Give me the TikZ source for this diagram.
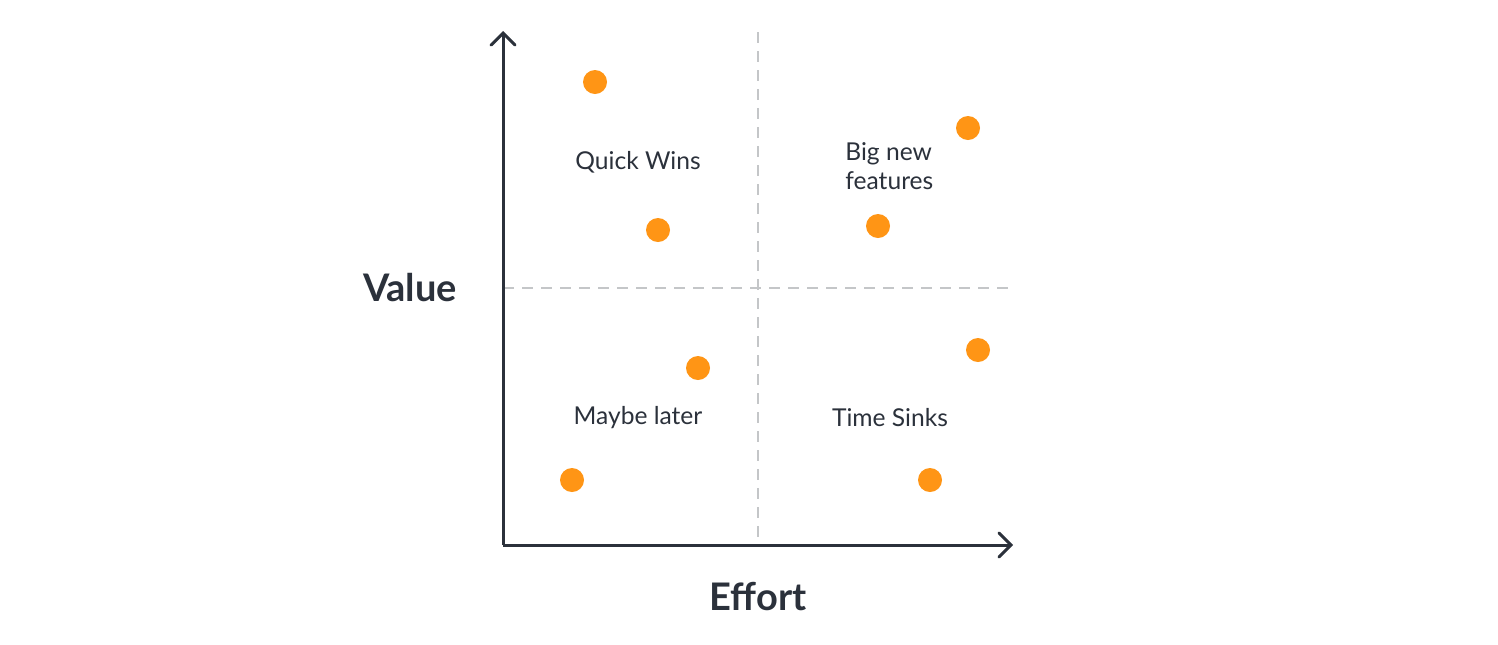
\documentclass[tikz,border=0pt]{standalone}
\usepackage{fontspec}
\setmainfont{Lato}
\usetikzlibrary{arrows.meta}
\definecolor{ink}{HTML}{2B313B}
\definecolor{dot}{HTML}{FF9515}
\definecolor{grid}{HTML}{C4C6C8}
\begin{document}
\begin{tikzpicture}[x=0.5pt,y=-0.5pt,font=\fontsize{12.3}{14.5}\selectfont,
  axis/.style={line width=1.5pt,ink,-{Straight Barb[length=6pt,width=12pt,line cap=round]}},
  split/.style={line width=1pt,grid,dash pattern=on 5.5pt off 4pt},
  item/.style={circle,fill=dot,inner sep=0pt,minimum size=12pt},
  zone/.style={text=ink,inner sep=0pt},
  title/.style={text=ink,inner sep=0pt,font=\fontsize{19}{22}\selectfont\bfseries}]
\useasboundingbox (0,0) rectangle (1498,644);

\coordinate (o) at (503,545);
\coordinate (ytop) at (503,31);
\coordinate (xend) at (1013,545);
\coordinate (vtop) at (758,32);
\coordinate (vbot) at (758,545);
\coordinate (hleft) at (503,288);
\coordinate (hright) at (1015,288);

% quadrant lines
\draw[split] (vtop) -- (vbot);
\draw[split] (hleft) -- (hright);

% axes
\draw[axis] (o) -- (ytop);
\draw[axis] (o) -- (xend);

\node[title] (value) at (410,288) {Value};
\node[title] (effort) at (758,597) {Effort};

\node[zone] (quick) at (638,162) {Quick Wins};
\node[zone,align=left,anchor=west] (big) at (845,166) {Big new\\features};
\node[zone] (maybe) at (638,418) {Maybe later};
\node[zone] (sinks) at (890,418) {Time Sinks};

\foreach \n/\x/\y in {1/595/82,2/658/230,3/698/368,4/572/480,5/968/128,6/878/226,7/978/350,8/930/480}
  \node[item] (d\n) at (\x,\y) {};

\end{tikzpicture}
\end{document}
